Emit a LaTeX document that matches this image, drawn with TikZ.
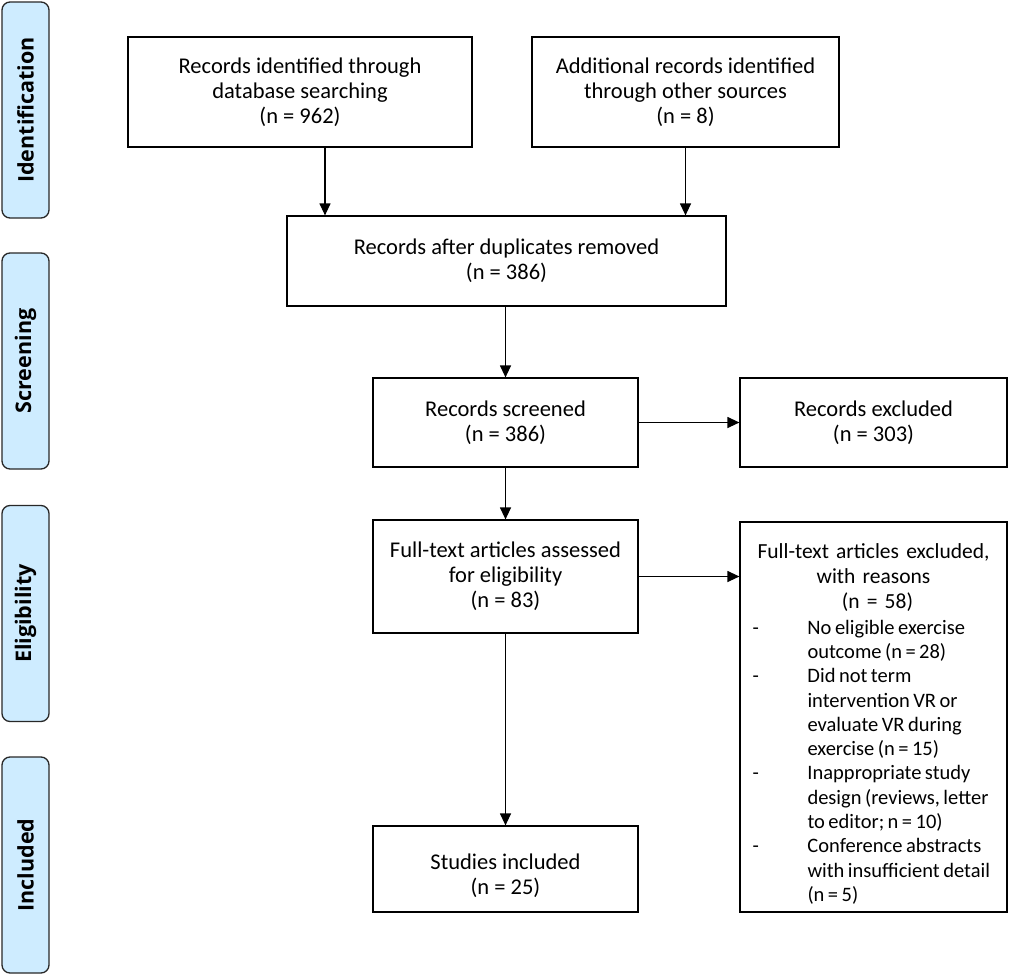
\documentclass[tikz,border=0pt]{standalone}
\usepackage{fontspec}
\setmainfont{Carlito}
\newfontfamily\sidefont{Open Sans}
\usetikzlibrary{arrows.meta,calc}
\definecolor{sideblue}{RGB}{206,236,255}
\definecolor{edgegray}{RGB}{40,40,40}
\tikzset{
  box/.style={draw=black, line width=1.2pt, fill=white, inner sep=0pt, align=center,
    font=\fontsize{22.5}{25}\selectfont},
  side/.style={draw=edgegray, line width=1.3pt, fill=sideblue, rounded corners=8pt,
    minimum width=47pt, minimum height=216pt, inner sep=0pt},
  sidelabel/.style={rotate=90, font=\sidefont\bfseries\fontsize{21.5}{24}\selectfont},
  arr/.style={line width=1.2pt, -{Triangle[length=12pt,width=11pt]}}
}
\begin{document}
\begin{tikzpicture}[x=1pt,y=-1pt]
\useasboundingbox (0,0) rectangle (1013,977);
% phase sidebars
\node[side] (sid) at (25.5,110) {};
\node[sidelabel] (sidl) at (sid.center) {Identification};
\node[side] (ssc) at (25.5,361) {};
\node[sidelabel] (sscl) at (ssc.center) {Screening};
\node[side] (sel) at (25.5,613.5) {};
\node[sidelabel] (sell) at (sel.center) {Eligibility};
\node[side] (sin) at (25.5,865) {};
\node[sidelabel] (sinl) at (sin.center) {Included};
% boxes
\node[box, minimum width=344pt, minimum height=110pt] (b1) at (300,92)
  {Records identified through\\ database searching\\ (n = 962)};
\node[box, minimum width=307pt, minimum height=110pt] (b2) at (685.5,92)
  {Additional records identified\\ through other sources\\ (n = 8)};
\node[box, minimum width=439pt, minimum height=90pt] (b3) at (506.5,261)
  {Records after duplicates removed\\ (n = 386)};
\node[box, minimum width=265pt, minimum height=89pt] (b4) at (505.5,422.5)
  {Records screened\\ (n = 386)};
\node[box, minimum width=267pt, minimum height=89pt] (b5) at (873.5,422.5)
  {Records excluded\\ (n = 303)};
\node[box, minimum width=265pt, minimum height=113pt] (b6) at (505.5,576.5)
  {Full-text articles assessed\\ for eligibility\\ (n = 83)};
\node[box, minimum width=267pt, minimum height=390pt] (b7) at (873.5,717) {};
\node[anchor=north, inner sep=0pt, text width=252pt, align=left,
  font=\fontsize{21.5}{24.8}\selectfont] (b7t) at ($(b7.north)+(0,22)$)
  {\centering Full-text articles excluded,\\ with reasons\\ \hspace*{8pt}(n = 58)\par
   \vspace{5pt}%
   \fontsize{20.5}{24.3}\selectfont
   \spaceskip=0.17em plus 0.05em minus 0.03em
   \setlength{\tabcolsep}{0pt}%
   \begin{tabular}{@{}p{60pt}@{}l@{}}
   \hspace*{5pt}- & No eligible exercise\\
   & outcome (n = 28)\\
   \hspace*{5pt}- & Did not term\\
   & intervention VR or\\
   & evaluate VR during\\
   & exercise (n = 15)\\
   \hspace*{5pt}- & Inappropriate study\\
   & design (reviews, letter\\
   & to editor; n = 10)\\
   \hspace*{5pt}- & Conference abstracts\\
   & with insufficient detail\\
   & (n = 5)
   \end{tabular}};
\node[box, minimum width=265pt, minimum height=86pt] (b8) at (505.5,869)
  {\rule{0pt}{30pt}Studies included\\ (n = 25)};
% connectors
\coordinate (c1) at (325,0);
\draw[arr] (b1.south -| c1) -- (b3.north -| c1);
\draw[arr] (b2.south) -- (b3.north -| b2.south);
\draw[arr] (b3.south -| b4.north) -- (b4.north);
\draw[arr] (b4.south) -- (b6.north);
\draw[arr] (b6.south) -- (b8.north);
\draw[arr] (b4.east) -- (b5.west);
\draw[arr] (b6.east) -- (b7.west |- b6.east);
\end{tikzpicture}
\end{document}
